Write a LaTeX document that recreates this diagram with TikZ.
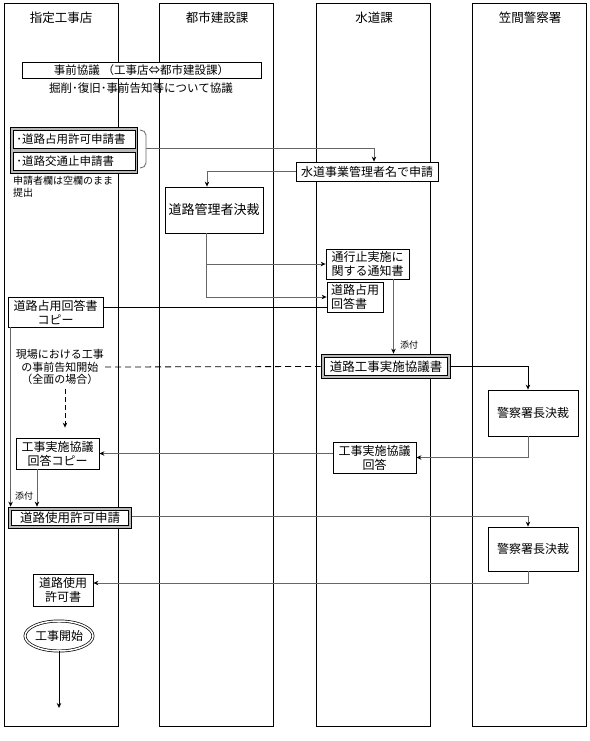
\documentclass[tikz,border=0pt]{standalone}
\usepackage{fontspec}
\setmainfont{Noto Sans CJK JP}
\usetikzlibrary{arrows.meta,calc,shapes.geometric}
\begin{document}
\begin{tikzpicture}[x=1pt,y=-1pt,
  lane/.style={draw=black,line width=0.9pt},
  hdr/.style={font=\fontsize{12.5}{14}\selectfont},
  box/.style={draw=black,line width=0.8pt,fill=white,inner sep=1pt,align=center,font=\fontsize{12}{14}\selectfont},
  dbox/.style={draw=black,line width=0.7pt,double=gray!55,double distance=2.2pt,fill=white,inner sep=1pt,align=center,font=\fontsize{12.5}{14}\selectfont},
  conn/.style={draw=black!60,line width=1pt,-{Stealth[length=5pt,width=4.5pt,color=black]}},
  connb/.style={draw=black,line width=0.8pt,-{Stealth[length=5pt,width=4.5pt,color=black]}},
  plainb/.style={draw=black,line width=0.8pt},
  small/.style={font=\fontsize{10}{12}\selectfont,inner sep=0pt},
  tenpu/.style={font=\fontsize{9}{10}\selectfont,inner sep=0pt}
]
\useasboundingbox (0,0) rectangle (589,741);
\fill[white] (0,0) rectangle (589,741);
% lanes
\draw[lane] (4,3) rectangle (118,726);
\draw[lane] (159,3) rectangle (273,726);
\draw[lane] (316,3) rectangle (430,726);
\draw[lane] (472,3) rectangle (586,726);
\node[hdr] (h1) at (61,18) {指定工事店};
\node[hdr] (h2) at (217,18) {都市建設課};
\node[hdr] (h3) at (374,18) {水道課};
\node[hdr] (h4) at (530,18) {笠間警察署};
% pre-consultation
\node[box,minimum width=239pt,minimum height=16pt,font=\fontsize{11.5}{13}\selectfont] (jizen) at (141.5,70) {事前協議 （工事店⇔都市建設課）};
\node[font=\fontsize{11.5}{13}\selectfont,inner sep=0pt] (kyogi) at (141,88) {掘削･復旧･事前告知等について協議};
% application pair
\draw[draw=black,line width=0.7pt,fill=gray!55] (10,127) rectangle (137,173);
\node[box,anchor=north west,minimum width=122pt,minimum height=18pt,text width=116pt,align=left,font=\fontsize{11.5}{13}\selectfont] (p1) at (13,130) {･道路占用許可申請書};
\node[box,anchor=north west,minimum width=122pt,minimum height=18pt,text width=116pt,align=left,font=\fontsize{11.5}{13}\selectfont] (p2) at (13,152) {･道路交通止申請書};
\draw[draw=gray!80!black,line width=0.8pt] (140,130) to[out=0,in=90] (146,135) -- (146,163) to[out=-90,in=0] (140,168);
\coordinate (br) at (146,148);
\node[small,anchor=north west,align=left] (note) at (13,176) {申請者欄は空欄のまま\\提出};
% water dept
\node[box,minimum width=142pt,minimum height=19pt] (wa) at (367,171.5) {水道事業管理者名で申請};
\node[box,minimum width=98pt,minimum height=46pt,font=\fontsize{13}{15}\selectfont] (kessai) at (214,210) {道路管理者決裁};
\node[box,minimum width=83pt,minimum height=30pt,align=left] (tsuko) at (367.5,264) {通行止実施に\\関する通知書};
\node[box,minimum width=56pt,minimum height=30pt,align=left] (senyo) at (355,297) {道路占用\\回答書};
\node[box,minimum width=95pt,minimum height=30pt] (copy) at (55.5,312) {道路占用回答書\\コピー};
\node[align=center,inner sep=1pt,font=\fontsize{11}{12.5}\selectfont] (genba) at (60,367) {現場における工事\\の事前告知開始\\（全面の場合）};
\node[dbox,minimum width=126pt,minimum height=21pt] (doko) at (386,366.5) {道路工事実施協議書};
\node[box,minimum width=90pt,minimum height=46pt] (kei1) at (533,413) {警察署長決裁};
\node[box,minimum width=83pt,minimum height=31pt] (kaito) at (374.5,457.5) {工事実施協議\\回答};
\node[box,minimum width=83pt,minimum height=31pt] (kcopy) at (57.5,453.5) {工事実施協議\\回答コピー};
\node[dbox,minimum width=120pt,minimum height=18pt] (shiyo) at (70,518) {道路使用許可申請};
\node[box,minimum width=90pt,minimum height=44pt] (kei2) at (533,549) {警察署長決裁};
\node[box,minimum width=60pt,minimum height=32pt] (kyoka) at (63,590) {道路使用\\許可書};
\node[ellipse,draw=black,line width=0.7pt,double=white,double distance=1.5pt,minimum width=68pt,minimum height=30pt,inner sep=0pt,font=\fontsize{12}{14}\selectfont] (start) at (59,636) {工事開始};
\coordinate (fin) at (59,708);
% connectors
\draw[conn] (br) -| ($(wa.north)+(7,0)$);
\draw[conn] (wa.west) -| ($(kessai.north)+(-7,0)$);
\draw[conn] ($(kessai.south)+(-8,0)$) |- (tsuko.west);
\draw[conn] ($(kessai.south)+(-8,0)$) |- (senyo.west);
\draw[plainb] ($(senyo.south west)+(0,-5)$) coordinate (s1) -- (s1 -| copy.east);
\draw[conn] ($(copy.south west)+(3,0)$) coordinate (c1) -- ($(c1 |- shiyo.north)+(0,-2)$);
\draw[conn] ($(tsuko.south)+(26,0)$) coordinate (t1) -- ($(t1 |- doko.north)+(0,-2)$);
\node[tenpu,anchor=west] (tp1) at (400,345) {添付};
\draw[plainb,dash pattern=on 6pt off 4pt] (genba.east) -- ($(doko.west)+(-2,0)$);
\draw[plainb,dash pattern=on 5pt off 3pt,-{Stealth[length=5pt,width=4.5pt,color=black]}] ($(genba.south)+(5,3)$) -- ($(kcopy.north)+(7.5,-10)$);
\draw[connb] ($(doko.east)+(2,0)$) -| ($(kei1.north)+(-5,0)$);
\draw[conn] ($(kei1.south)+(-5,0)$) |- (kaito.east);
\draw[conn] (kaito.west |- kcopy.east) -- (kcopy.east);
\draw[conn] ($(kcopy.south)+(-20.5,0)$) coordinate (k1) -- ($(k1 |- shiyo.north)+(0,-2)$);
\node[tenpu,anchor=west] (tp2) at (15,496) {添付};
\draw[conn] ($(shiyo.east)+(2,-2)$) -| ($(kei2.north)+(-5,0)$);
\draw[conn] ($(kei2.south)+(-5,0)$) |- ($(kyoka.east)+(0,-7)$);
\draw[connb] (start.south) -- (fin);
\end{tikzpicture}
\end{document}
